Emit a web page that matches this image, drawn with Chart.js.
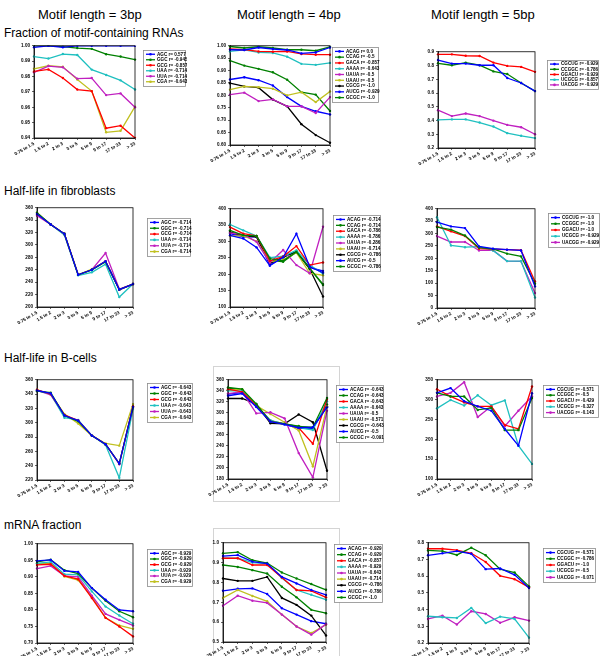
<!DOCTYPE html>
<html>
<head>
<meta charset="utf-8">
<script src="https://cdn.jsdelivr.net/npm/chart.js@4.4.1/dist/chart.umd.min.js"></script>
<style>
  body { margin: 0; background: #fff; }
  #page { position: relative; width: 600px; height: 656px; overflow: hidden; font-family: "Liberation Sans", Arial, sans-serif; }
  .hdr { position: absolute; font-size: 13px; line-height: 14px; color: #000; white-space: nowrap; }
  .row { position: absolute; font-size: 12px; line-height: 14px; color: #000; white-space: nowrap; }
  .frame { position: absolute; border: 1px solid #d4d4d4; }
  canvas { position: absolute; }
</style>
</head>
<body>
<div id="page">
  <div class="hdr" style="left:38px;top:8px">Motif length = 3bp</div>
  <div class="hdr" style="left:237px;top:8px">Motif length = 4bp</div>
  <div class="hdr" style="left:431px;top:8px">Motif length = 5bp</div>
  <div class="row" style="left:4px;top:26px">Fraction of motif-containing RNAs</div>
  <div class="row" style="left:4px;top:184px">Half-life in fibroblasts</div>
  <div class="row" style="left:4px;top:351px">Half-life in B-cells</div>
  <div class="row" style="left:4px;top:518px">mRNA fraction</div>
  <div class="frame" style="left:213px;top:366px;width:125px;height:134px"></div>
  <div class="frame" style="left:213px;top:528px;width:125px;height:140px"></div>
</div>
<script>
// length-class bins on the x axis
const categories = ["0.75 to 1.5", "1.5 to 2", "2 to 3", "3 to 5", "5 to 9", "9 to 17", "17 to 33", "> 33"];

const motifs3 = ["AGC", "GGC", "GCG", "UAA", "UUA", "CGA"];
const motifs4 = ["ACAG", "CCAG", "GACA", "AAAA", "UAUA", "UAAU", "CGCG", "AUCG", "GCGC"];
const motifs5 = ["CGCUG", "CCGGC", "GGACU", "UCGCG", "UACGG"];

// --- fraction of motif-containing RNAs
const frac3R = ["0.577", "-0.945", "-0.857", "-0.714", "-0.714", "-0.643"];
const frac3Vals = [
  [0.999, 1.0, 0.999, 1.0, 1.0, 1.0, 1.0, 1.0],
  [1.0, 1.0, 0.9995, 0.9985, 0.998, 0.9945, 0.993, 0.991],
  [0.9833, 0.9846, 0.979, 0.9715, 0.9705, 0.9464, 0.948, 0.940],
  [0.993, 0.9917, 0.9946, 0.994, 0.9845, 0.981, 0.9775, 0.9715],
  [0.9827, 0.9868, 0.986, 0.9786, 0.979, 0.9679, 0.969, 0.960],
  [0.985, 0.987, 0.9863, 0.978, 0.9705, 0.9437, 0.9447, 0.9604]
];
const frac4R = ["0.0", "-0.5", "-0.857", "-0.643", "-0.5", "-0.5", "-1.0", "-0.929", "-1.0"];
const frac4Vals = [
  [0.984, 0.983, 0.993, 0.987, 0.983, 0.969, 0.973, 0.993],
  [0.997, 0.991, 0.996, 0.991, 0.984, 0.984, 0.980, 0.996],
  [0.987, 0.984, 0.977, 0.976, 0.977, 0.967, 0.964, 0.964],
  [0.977, 0.983, 0.973, 0.971, 0.956, 0.927, 0.923, 0.931],
  [0.803, 0.811, 0.777, 0.784, 0.756, 0.756, 0.729, 0.793],
  [0.823, 0.836, 0.833, 0.827, 0.800, 0.813, 0.773, 0.816],
  [0.849, 0.836, 0.831, 0.783, 0.756, 0.684, 0.640, 0.609],
  [0.864, 0.873, 0.861, 0.840, 0.793, 0.756, 0.736, 0.723],
  [0.940, 0.920, 0.907, 0.893, 0.863, 0.813, 0.803, 0.737]
];
const frac5R = ["-0.929", "-0.786", "-0.929", "-0.857", "-0.929"];
const frac5Vals = [
  [0.840, 0.814, 0.814, 0.802, 0.802, 0.709, 0.673, 0.614],
  [0.816, 0.802, 0.821, 0.802, 0.757, 0.738, 0.673, 0.614],
  [0.881, 0.881, 0.871, 0.869, 0.821, 0.797, 0.790, 0.754],
  [0.404, 0.408, 0.408, 0.385, 0.356, 0.308, 0.289, 0.272],
  [0.475, 0.432, 0.451, 0.432, 0.399, 0.368, 0.351, 0.300]
];

// --- half-life in fibroblasts
const fib3R = ["-0.714", "-0.714", "-0.714", "-0.714", "-0.714", "-0.714"];
const fib3Vals = [
  [350, 333, 318, 252, 260, 274, 228, 237],
  [352, 333, 318, 252, 260, 273, 228, 237],
  [350, 333, 318, 252, 260, 274, 228, 237],
  [350, 333, 316, 251, 256, 269, 216, 237],
  [347, 333, 317, 252, 260, 287, 229, 237],
  [352, 333, 318, 252, 261, 273, 228, 237]
];
const fib4R = ["-0.714", "-0.714", "-0.786", "-0.786", "-0.286", "-0.714", "-0.786", "-0.5", "-0.786"];
const fib4Vals = [
  [319, 309, 282, 226, 252, 324, 223, 205],
  [334, 319, 317, 248, 241, 268, 218, 170],
  [344, 324, 317, 241, 254, 286, 228, 236],
  [352, 334, 317, 251, 255, 273, 228, 202],
  [326, 322, 299, 235, 274, 228, 203, 345],
  [317, 317, 301, 238, 245, 266, 203, 197],
  [329, 317, 314, 233, 252, 270, 216, 132],
  [324, 314, 314, 228, 252, 268, 220, 210],
  [329, 317, 317, 243, 238, 268, 218, 167]
];
const fib5R = ["-1.0", "-1.0", "-1.0", "-0.929", "-0.929"];
const fib5Vals = [
  [346, 329, 322, 248, 239, 235, 232, 87],
  [326, 316, 292, 243, 238, 219, 208, 98],
  [329, 309, 290, 239, 237, 235, 233, 107],
  [366, 252, 245, 247, 232, 189, 189, 42],
  [290, 266, 266, 232, 233, 189, 188, 60]
];

// --- half-life in B-cells
const bcell3R = ["-0.643", "-0.643", "-0.643", "-0.643", "-0.643", "-0.643"];
const bcell3Vals = [
  [345, 341, 310, 303, 282, 270, 243, 322],
  [344, 342, 310, 302, 282, 270, 243, 322],
  [346, 340, 311, 303, 282, 270, 243, 323],
  [345, 340, 307, 304, 282, 269, 223, 319],
  [345, 339, 310, 303, 282, 270, 242, 322],
  [346, 340, 312, 299, 282, 271, 268, 326]
];
const bcell4R = ["-0.643", "-0.643", "-0.643", "-0.643", "-0.5", "-0.571", "-0.643", "-0.5", "-0.091"];
const bcell4Vals = [
  [331, 335, 311, 284, 279, 273, 274, 310],
  [346, 343, 316, 284, 280, 275, 274, 327],
  [343, 338, 313, 284, 280, 273, 244, 325],
  [340, 340, 311, 286, 280, 273, 269, 321],
  [335, 338, 299, 301, 290, 227, 183, 304],
  [341, 343, 313, 298, 283, 268, 203, 312],
  [326, 326, 316, 281, 280, 297, 283, 195],
  [334, 337, 311, 285, 279, 272, 272, 312],
  [345, 342, 313, 286, 280, 276, 272, 315]
];
const bcell5R = ["-0.571", "-0.5", "-0.429", "-0.327", "-0.143"];
const bcell5Vals = [
  [317, 329, 296, 283, 272, 226, 184, 316],
  [317, 308, 308, 274, 279, 223, 223, 304],
  [326, 308, 293, 283, 283, 236, 226, 333],
  [278, 299, 285, 311, 286, 298, 184, 138],
  [308, 317, 344, 256, 283, 233, 272, 308]
];

// --- mRNA fraction
const mrna3R = ["-0.929", "-0.929", "-0.929", "-0.929", "-0.929", "-0.929"];
const mrna3Vals = [
  [0.948, 0.951, 0.918, 0.915, 0.866, 0.831, 0.800, 0.796],
  [0.945, 0.952, 0.920, 0.910, 0.866, 0.828, 0.796, 0.778],
  [0.936, 0.938, 0.903, 0.893, 0.836, 0.776, 0.750, 0.720],
  [0.941, 0.945, 0.908, 0.906, 0.856, 0.810, 0.783, 0.758],
  [0.925, 0.933, 0.903, 0.900, 0.843, 0.788, 0.770, 0.753],
  [0.940, 0.941, 0.901, 0.890, 0.840, 0.776, 0.753, 0.743]
];
const mrna4R = ["-0.929", "-0.929", "-0.857", "-0.929", "-0.643", "-0.714", "-0.786", "-0.786", "-1.0"];
const mrna4Vals = [
  [0.933, 0.938, 0.905, 0.895, 0.828, 0.795, 0.762, 0.737],
  [0.947, 0.953, 0.912, 0.898, 0.850, 0.820, 0.792, 0.763],
  [0.922, 0.922, 0.888, 0.888, 0.825, 0.762, 0.758, 0.725],
  [0.922, 0.922, 0.900, 0.895, 0.822, 0.762, 0.738, 0.713],
  [0.683, 0.733, 0.708, 0.697, 0.638, 0.578, 0.537, 0.590],
  [0.722, 0.762, 0.732, 0.705, 0.638, 0.578, 0.545, 0.587],
  [0.820, 0.808, 0.808, 0.828, 0.722, 0.687, 0.633, 0.533],
  [0.758, 0.768, 0.770, 0.742, 0.670, 0.638, 0.605, 0.592],
  [0.888, 0.878, 0.862, 0.845, 0.778, 0.725, 0.662, 0.645]
];
const mrna5R = ["-0.571", "-0.786", "-1.0", "-0.5", "-0.071"];
const mrna5Vals = [
  [0.725, 0.737, 0.750, 0.734, 0.642, 0.646, 0.608, 0.529],
  [0.754, 0.750, 0.727, 0.770, 0.725, 0.642, 0.622, 0.539],
  [0.764, 0.764, 0.756, 0.737, 0.685, 0.602, 0.582, 0.533],
  [0.360, 0.354, 0.350, 0.410, 0.319, 0.358, 0.344, 0.232],
  [0.344, 0.364, 0.311, 0.390, 0.374, 0.321, 0.354, 0.334]
];

// matplotlib-style colour cycle b g r c m y k
const lineColors = ["#0000ff", "#008000", "#ff0000", "#20c0c0", "#c020c0", "#c0c020", "#000000", "#0000ff", "#008000"];

// panel layout: plot box [l, t, r, b], legend box [x, y, w, h], y axis range
const panels = [
  { motifs: motifs3, r: frac3R, vals: frac3Vals, plot: [34, 45, 135, 138], leg: [143, 50, 42, 36], y: [0.94, 1.0, 0.01, 2] },
  { motifs: motifs4, r: frac4R, vals: frac4Vals, plot: [230, 45, 330, 145], leg: [332, 47, 46, 55], y: [0.6, 1.0, 0.05, 2] },
  { motifs: motifs5, r: frac5R, vals: frac5Vals, plot: [438, 51, 535, 148], leg: [547, 60, 51, 29], y: [0.2, 0.9, 0.1, 1] },
  { motifs: motifs3, r: fib3R, vals: fib3Vals, plot: [37, 207, 133, 307], leg: [147, 218, 43, 38], y: [200, 360, 20, 0] },
  { motifs: motifs4, r: fib4R, vals: fib4Vals, plot: [230, 208, 323, 307], leg: [333, 215, 47, 56], y: [100, 400, 50, 0] },
  { motifs: motifs5, r: fib5R, vals: fib5Vals, plot: [437, 208, 535, 308], leg: [548, 213, 51, 34], y: [0, 400, 50, 0] },
  { motifs: motifs3, r: bcell3R, vals: bcell3Vals, plot: [37, 379, 133, 480], leg: [147, 383, 45, 39], y: [220, 360, 20, 0] },
  { motifs: motifs4, r: bcell4R, vals: bcell4Vals, plot: [228, 379, 327, 479], leg: [336, 385, 47, 57], y: [180, 360, 20, 0] },
  { motifs: motifs5, r: bcell5R, vals: bcell5Vals, plot: [437, 379, 532, 479], leg: [543, 385, 55, 32], y: [100, 350, 50, 0] },
  { motifs: motifs3, r: mrna3R, vals: mrna3Vals, plot: [37, 543, 133, 643], leg: [147, 549, 45, 37], y: [0.7, 1.0, 0.05, 2] },
  { motifs: motifs4, r: mrna4R, vals: mrna4Vals, plot: [223, 542, 326, 642], leg: [334, 544, 48, 58], y: [0.5, 1.0, 0.1, 1] },
  { motifs: motifs5, r: mrna5R, vals: mrna5Vals, plot: [428, 542, 529, 643], leg: [543, 548, 52, 34], y: [0.2, 0.8, 0.1, 1] }
];

const Y_AXIS_W = 28;
const X_AXIS_H = 24;
const TOP_PAD = 4;

// black box round the plot + matplotlib-like boxed legend
const boxPlugin = {
  id: "boxLegend",
  afterDatasetsDraw(chart) {
    const a = chart.chartArea;
    const ctx = chart.ctx;
    ctx.save();
    ctx.strokeStyle = "#000";
    ctx.lineWidth = 0.8;
    ctx.strokeRect(a.left, a.top, a.right - a.left, a.bottom - a.top);
    ctx.restore();
  },
  afterDraw(chart, args, opts) {
    const ctx = chart.ctx;
    const n = chart.data.datasets.length;
    const rowH = (opts.h - 3) / n;
    ctx.save();
    ctx.fillStyle = "#fff";
    ctx.fillRect(opts.x, opts.y, opts.w, opts.h);
    ctx.strokeStyle = "#8c8c8c";
    ctx.lineWidth = 0.8;
    ctx.strokeRect(opts.x + 0.5, opts.y + 0.5, opts.w, opts.h);
    ctx.font = 'bold 4.6px "Liberation Sans", Arial, sans-serif';
    ctx.textBaseline = "middle";
    chart.data.datasets.forEach((ds, i) => {
      const cy = opts.y + 1.5 + rowH * (i + 0.5);
      ctx.strokeStyle = ds.borderColor;
      ctx.lineWidth = 1.3;
      ctx.beginPath();
      ctx.moveTo(opts.x + 3, cy);
      ctx.lineTo(opts.x + 12, cy);
      ctx.stroke();
      ctx.fillStyle = ds.borderColor;
      ctx.beginPath();
      ctx.arc(opts.x + 7.5, cy, 1.3, 0, Math.PI * 2);
      ctx.fill();
      ctx.fillStyle = "#000";
      ctx.fillText(ds.label, opts.x + 14, cy);
    });
    ctx.restore();
  }
};

const page = document.getElementById("page");

panels.forEach((p) => {
  const [pl, pt, pr, pb] = p.plot;
  const [lx, ly, lw, lh] = p.leg;
  const left = pl - Y_AXIS_W;
  const top = pt - TOP_PAD;
  const width = Math.max(lx + lw + 2, pr + 4) - left;
  const height = pb + X_AXIS_H - top;

  const canvas = document.createElement("canvas");
  canvas.width = width;
  canvas.height = height;
  canvas.style.left = left + "px";
  canvas.style.top = top + "px";
  canvas.style.width = width + "px";
  canvas.style.height = height + "px";
  page.appendChild(canvas);

  const [ymin, ymax, ystep, ydec] = p.y;

  new Chart(canvas, {
    type: "line",
    data: {
      labels: categories,
      datasets: p.vals.map((v, i) => ({
        label: `${p.motifs[i]} r= ${p.r[i]}`,
        data: v,
        borderColor: lineColors[i],
        backgroundColor: lineColors[i],
        borderWidth: 1.3,
        pointRadius: 1.2,
        pointBorderWidth: 0,
        tension: 0,
        fill: false,
      })),
    },
    options: {
      responsive: false,
      animation: false,
      devicePixelRatio: 1,
      layout: {
        padding: { left: 0, top: TOP_PAD, right: width - (pr - left), bottom: 0 },
      },
      plugins: {
        legend: { display: false },
        tooltip: { enabled: false },
        boxLegend: { x: lx - left, y: ly - top, w: lw, h: lh },
      },
      scales: {
        x: {
          offset: false,
          afterFit: (s) => { s.height = X_AXIS_H; },
          grid: { drawOnChartArea: false, tickLength: 2, color: "#000", lineWidth: 0.6 },
          border: { color: "#000", width: 0.8 },
          ticks: {
            autoSkip: false,
            minRotation: 30,
            maxRotation: 30,
            padding: 1,
            color: "#000",
            font: { size: 4.6, weight: "bold", family: '"Liberation Sans", Arial, sans-serif' },
          },
        },
        y: {
          min: ymin,
          max: ymax,
          afterFit: (s) => { s.width = Y_AXIS_W; },
          grid: { drawOnChartArea: false, tickLength: 2, color: "#000", lineWidth: 0.6 },
          border: { color: "#000", width: 0.8 },
          ticks: {
            stepSize: ystep,
            padding: 2,
            color: "#000",
            font: { size: 4.6, weight: "bold", family: '"Liberation Sans", Arial, sans-serif' },
            callback: (v) => Number(v).toFixed(ydec),
          },
        },
      },
    },
    plugins: [boxPlugin],
  });
});
</script>
</body>
</html>
